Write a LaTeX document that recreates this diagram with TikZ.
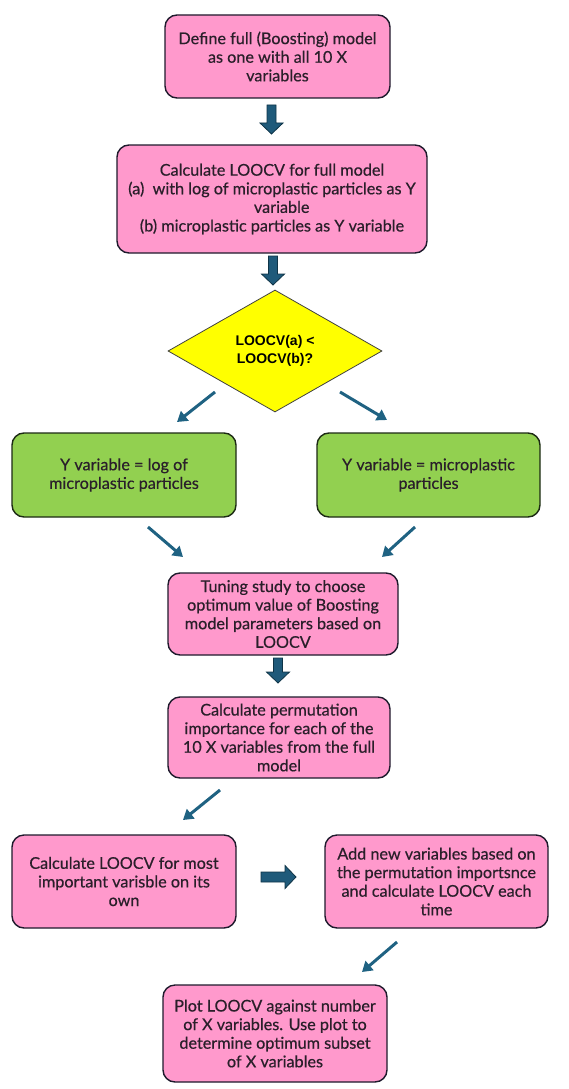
\documentclass[tikz,border=0pt]{standalone}
\usepackage{fontspec}
\setmainfont{Lato}
\newfontfamily\boxfont{Lato}[FakeBold=0.5]
\newfontfamily\diafont{Liberation Sans}
\usetikzlibrary{shapes.geometric,arrows.meta}
\definecolor{pinkfill}{HTML}{FF99CC}
\definecolor{greenfill}{HTML}{92D050}
\definecolor{yellowfill}{HTML}{FFFF00}
\definecolor{boxline}{HTML}{1E1A2C}
\definecolor{greenline}{HTML}{1C2A14}
\definecolor{arrowblue}{HTML}{1F6282}
\definecolor{fatblue}{HTML}{1F5A7A}
\definecolor{fatline}{HTML}{0F3447}
\definecolor{txt}{HTML}{2A1F2A}
\begin{document}
\begin{tikzpicture}[x=1pt,y=-1pt,
  pinkbox/.style={draw=boxline, line width=1.4pt, fill=pinkfill, rounded corners=12pt,
    align=center, text=txt, font=\boxfont\fontsize{16.2}{18.6}\selectfont, inner sep=0pt},
  greenbox/.style={pinkbox, fill=greenfill, draw=greenline},
  decision/.style={diamond, draw=black!75, line width=0.8pt, fill=yellowfill, align=center,
    font=\diafont\bfseries\fontsize{14}{18}\selectfont, inner sep=0pt, aspect=1.75},
  fatstyle/.style={draw=fatline, line width=0.8pt, fill=fatblue, line join=miter},
  thinarrow/.style={draw=arrowblue, line width=3pt, -{Triangle[length=10pt,width=12pt]}},
  pics/fatdown/.style={code={\draw[fatstyle] (-4.5,0) -- (4.5,0) -- (4.5,{#1-11}) -- (11.5,{#1-11})
      -- (0,#1) -- (-11.5,{#1-11}) -- (-4.5,{#1-11}) -- cycle;}},
  pics/fatright/.style={code={\draw[fatstyle] (0,-5) -- (0,5) -- ({#1-11},5) -- ({#1-11},11.5)
      -- (#1,0) -- ({#1-11},-11.5) -- ({#1-11},-5) -- cycle;}}
]
\useasboundingbox (0,0) rectangle (568,1089);

\node[pinkbox, minimum width=225pt, minimum height=83pt] (b1) at (277.5,56.5)
  {Define full (Boosting) model\\as one with all 10 X\\variables};
\node[pinkbox, minimum width=310pt, minimum height=108pt] (b2) at (272,199)
  {Calculate LOOCV for full model\\(a)\ \ with log of microplastic particles as Y\\\hspace*{1.2em}variable\\(b) microplastic particles as Y variable};
\node[decision, minimum width=214pt, minimum height=122pt] (dia) at (275,351)
  {LOOCV(a) <\\LOOCV(b)?};
\node[greenbox, minimum width=224pt, minimum height=84pt] (gl) at (124,475)
  {Y variable = log of\\microplastic particles};
\node[greenbox, minimum width=223pt, minimum height=84pt] (gr) at (428.5,475)
  {Y variable = microplastic\\particles};
\node[pinkbox, minimum width=230pt, minimum height=82pt] (tune) at (283,614)
  {Tuning study to choose\\optimum value of Boosting\\model parameters based on\\LOOCV};
\node[pinkbox, minimum width=222pt, minimum height=81pt] (perm) at (279,737.5)
  {Calculate permutation\\importance for each of the\\10 X variables from the full\\model};
\node[pinkbox, minimum width=224pt, minimum height=93pt] (cl) at (124,881.5)
  {Calculate LOOCV for most\\important varisble on its\\own};
\node[pinkbox, minimum width=223pt, minimum height=93pt] (cr) at (436.5,881.5)
  {Add new variables based on\\the permutation importsnce\\and calculate LOOCV each\\time};
\node[pinkbox, minimum width=224pt, minimum height=97pt] (fin) at (275,1033.5)
  {Plot LOOCV against number\\of X variables. Use plot to\\determine optimum subset\\of X variables};

% block arrows
\pic at (271.5,105) {fatdown=29};
\pic at (273,256) {fatdown=29};
\pic at (278,658) {fatdown=25};
\pic at (261,877) {fatright=35};

% thin arrows
\coordinate (d1s) at (215,392); \coordinate (d1e) at (177,422);
\coordinate (d2s) at (340,392); \coordinate (d2e) at (387,420);
\coordinate (g1s) at (148,527); \coordinate (g1e) at (183,557);
\coordinate (g2s) at (415,527); \coordinate (g2e) at (382,557);
\coordinate (p1s) at (220,790); \coordinate (p1e) at (183,820);
\coordinate (r1s) at (397,942); \coordinate (r1e) at (362,972);
\draw[thinarrow] (d1s) -- (d1e);
\draw[thinarrow] (d2s) -- (d2e);
\draw[thinarrow] (g1s) -- (g1e);
\draw[thinarrow] (g2s) -- (g2e);
\draw[thinarrow] (p1s) -- (p1e);
\draw[thinarrow] (r1s) -- (r1e);
\end{tikzpicture}
\end{document}
